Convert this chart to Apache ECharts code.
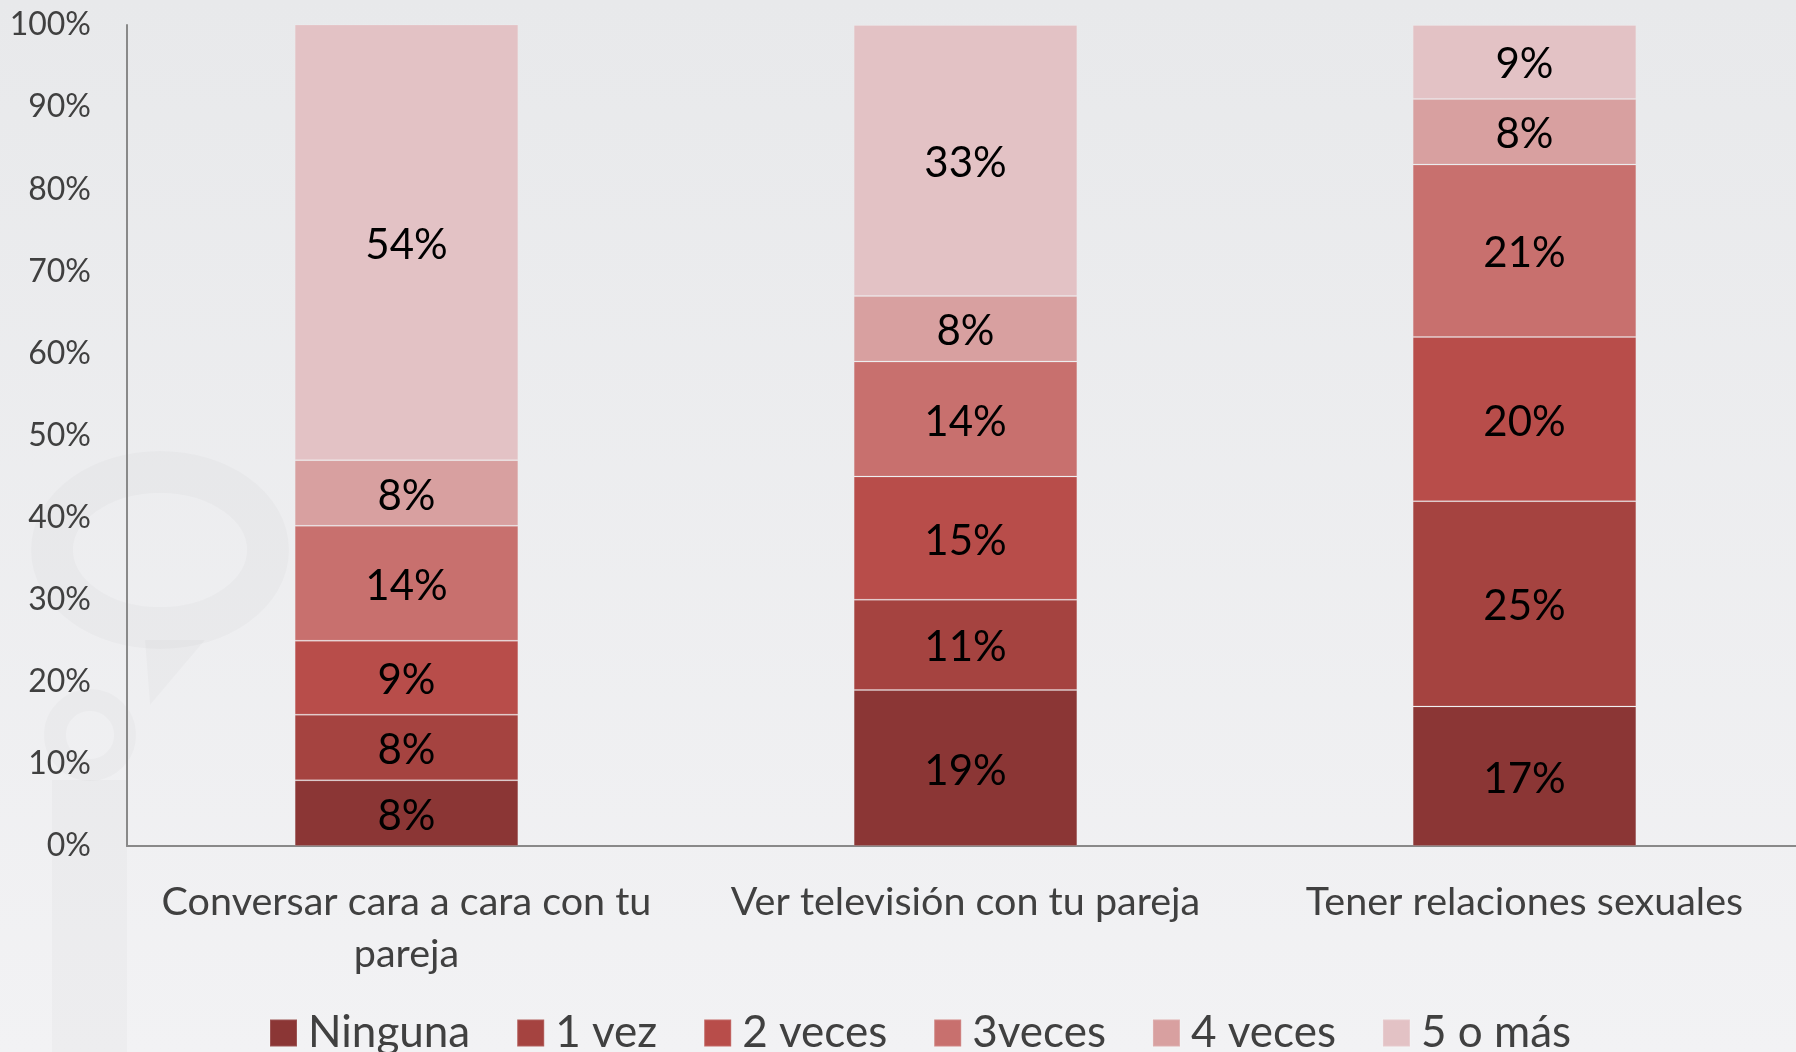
<!DOCTYPE html>
<html>
<head>
<meta charset="utf-8">
<script src="https://cdn.jsdelivr.net/npm/echarts@6/dist/echarts.min.js"></script>
<style>
  html, body { margin: 0; padding: 0; }
  #chart { width: 1796px; height: 1052px; }
</style>
</head>
<body>
<div id="chart"></div>
<script>
// categorias (eje x)
let categories = ['Conversar cara a cara con tu\npareja', 'Ver televisión con tu pareja', 'Tener relaciones sexuales']
let seriesNames = ['Ninguna', '1 vez', '2 veces', '3veces', '4 veces', '5 o más']
// valores por serie, en el orden de categories
let ninguna = [8, 19, 17]
let unaVez = [8, 11, 25]
let dosVeces = [9, 15, 20]
let tresVeces = [14, 14, 21]
let cuatroVeces = [8, 8, 8]
let cincoOMas = [54, 33, 9]
let yTicks = [0, 10, 20, 30, 40, 50, 60, 70, 80, 90, 100]

let colors = ['#8b3635', '#a54340', '#b84d4a', '#c8706e', '#d8a0a0', '#e3c2c5']
let allValues = [ninguna, unaVez, dosVeces, tresVeces, cuatroVeces, cincoOMas]

let font = 'Lato'

let series = allValues.map((arr, k) => ({
  name: seriesNames[k],
  type: 'bar',
  stack: 'total',
  barWidth: '40%',
  clip: true,
  itemStyle: { color: colors[k], borderColor: 'rgba(255,255,255,0.15)', borderWidth: 1 },
  label: {
    show: true,
    position: 'inside',
    offset: [0, 3],
    color: '#000',
    fontFamily: font,
    fontSize: 42,
    formatter: '{c}%'
  },
  data: arr
}))

let myChart = echarts.init(document.getElementById('chart'))
myChart.setOption({
  backgroundColor: {
    type: 'linear', x: 0, y: 0, x2: 0, y2: 1,
    colorStops: [{ offset: 0, color: '#e8e9eb' }, { offset: 1, color: '#f2f2f4' }]
  },
  animation: false,
  graphic: [
    // marca de agua tenue
    { type: 'ellipse', shape: { cx: 160, cy: 550, rx: 108, ry: 78 }, style: { fill: 'none', stroke: 'rgba(0,0,0,0.018)', lineWidth: 42 }, z: -1 },
    { type: 'polygon', shape: { points: [[145, 640], [205, 640], [150, 705]] }, style: { fill: 'rgba(0,0,0,0.018)' }, z: -1 },
    { type: 'circle', shape: { cx: 90, cy: 735, r: 35 }, style: { fill: 'none', stroke: 'rgba(0,0,0,0.018)', lineWidth: 22 }, z: -1 },
    { type: 'rect', shape: { x: 52, y: 780, width: 75, height: 272 }, style: { fill: 'rgba(0,0,0,0.02)' }, z: -1 }
  ],
  grid: { left: 127, width: 1677, top: 25, bottom: 206, outerBoundsMode: 'none' },
  legend: {
    data: seriesNames,
    left: 264,
    top: 1006,
    itemWidth: 27,
    itemHeight: 27,
    itemGap: 46,
    icon: 'rect',
    textStyle: { fontFamily: font, fontSize: 44, color: '#404040', padding: [0, 0, 0, 6] }
  },
  xAxis: {
    type: 'category',
    data: categories,
    axisLine: { lineStyle: { color: '#898989', width: 2 } },
    axisTick: { show: false },
    axisLabel: { interval: 0, fontFamily: font, fontSize: 39.5, color: '#404040', margin: 30, lineHeight: 52 }
  },
  yAxis: {
    type: 'value',
    min: yTicks[0],
    max: yTicks[yTicks.length - 1],
    interval: 10,
    splitLine: { show: false },
    axisLine: { show: true, lineStyle: { color: '#898989', width: 2 } },
    axisTick: { show: false },
    axisLabel: { fontFamily: font, fontSize: 32, color: '#404040', margin: 36, formatter: '{value}%' }
  },
  series: series
})
</script>
</body>
</html>
